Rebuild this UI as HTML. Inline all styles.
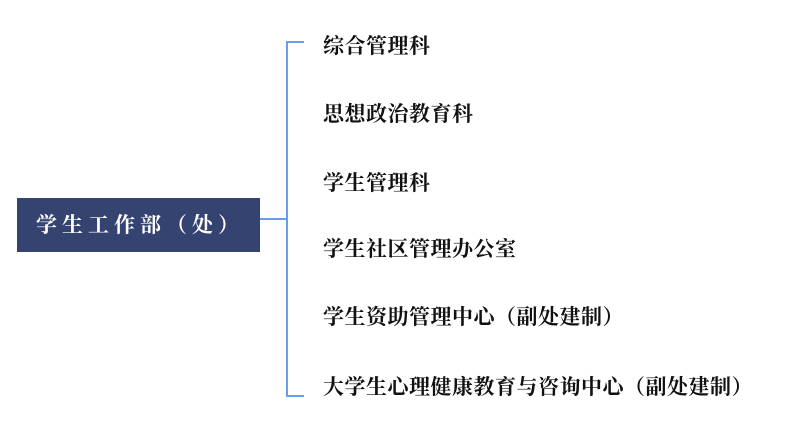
<!DOCTYPE html>
<html><head><meta charset="utf-8"><style>
body{margin:0;width:812px;height:440px;background:#fff;position:relative;overflow:hidden}
.box{position:absolute;left:17px;top:198px;width:243px;height:54px;background:#344370;color:#fff;font-family:"Liberation Serif","Noto Serif CJK SC",serif;font-size:21px;font-weight:bold;line-height:54px;letter-spacing:5px;padding-left:19px;box-sizing:border-box;white-space:nowrap}
.t{position:absolute;left:323px;font-family:"Liberation Serif","Noto Serif CJK SC",serif;font-weight:bold;font-size:21px;letter-spacing:0.5px;color:#111;white-space:nowrap;line-height:24px}
</style></head><body>
<div class="box">学生工作部（处）</div>
<svg width="812" height="440" style="position:absolute;left:0;top:0">
<g stroke="#6a9de8" stroke-width="2" fill="none">
<line x1="260" y1="219" x2="287" y2="219"/>
<polyline points="304,42 287,42 287,396 304,396"/>
</g>
</svg>
<div class="t" style="top:34px">综合管理科</div>
<div class="t" style="top:102px">思想政治教育科</div>
<div class="t" style="top:171px">学生管理科</div>
<div class="t" style="top:237px">学生社区管理办公室</div>
<div class="t" style="top:305px">学生资助管理中心（副处建制）</div>
<div class="t" style="top:375px">大学生心理健康教育与咨询中心（副处建制）</div>
</body></html>
